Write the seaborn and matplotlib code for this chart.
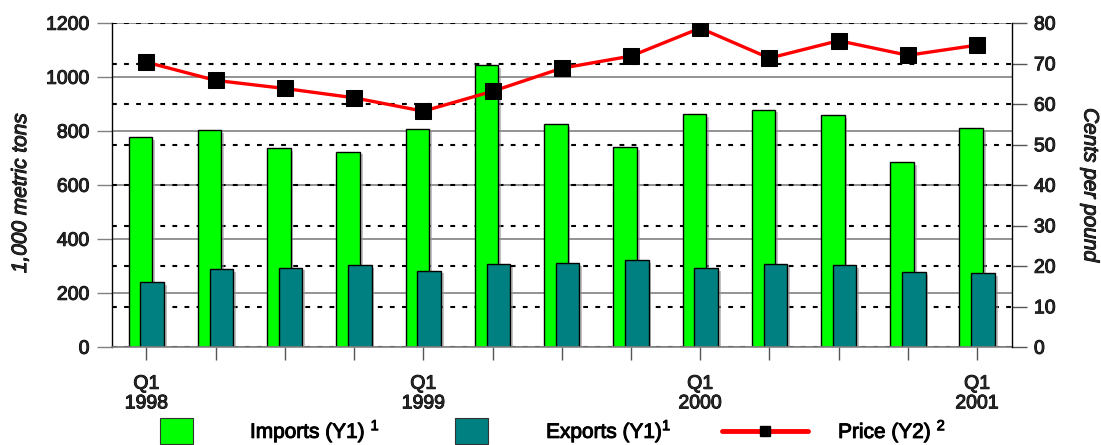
import matplotlib
matplotlib.use("Agg")
import matplotlib.pyplot as plt
import matplotlib.patheffects as pe
from matplotlib.lines import Line2D
from matplotlib.patches import Patch
from matplotlib.ticker import MultipleLocator
import numpy as np
import seaborn as sns

# quarterly data, Q1 1998 .. Q1 2001
quarters = ["1998 Q1", "1998 Q2", "1998 Q3", "1998 Q4",
            "1999 Q1", "1999 Q2", "1999 Q3", "1999 Q4",
            "2000 Q1", "2000 Q2", "2000 Q3", "2000 Q4",
            "2001 Q1"]
tick_labels = ["Q1\n1998", "", "", "", "Q1\n1999", "", "", "",
               "Q1\n2000", "", "", "", "Q1\n2001"]
imports = [778, 805, 737, 725, 807, 1044, 827, 741, 864, 880, 860, 685, 811]
exports = [240, 290, 295, 305, 284, 307, 311, 323, 293, 307, 305, 279, 274]
price = [70.4, 65.9, 63.9, 61.6, 58.3, 63.2, 68.9, 71.9, 78.8, 71.4, 75.7, 72.1, 74.6]

GREEN = "#00ff00"
TEAL = "#008080"
RED = "#ff0000"

sns.set_style("white")
plt.rcParams["font.family"] = ["Liberation Sans", "DejaVu Sans"]
plt.rcParams["mathtext.fontset"] = "custom"
plt.rcParams["mathtext.rm"] = "Liberation Sans"
plt.rcParams["mathtext.it"] = "Liberation Sans:italic"
plt.rcParams["text.color"] = "black"

# the original text is a heavy, slightly smeared Arial: thicken it a little
heavy = [pe.withStroke(linewidth=0.7, foreground="black")]

fig = plt.figure(figsize=(11.01, 4.45), dpi=100)
ax = fig.add_axes([0.1015, 0.2196, 0.8174, 0.7281])
ax2 = ax.twinx()

pos = np.arange(len(quarters))
shift = 0.085

# imports behind, exports in front, slightly overlapping
sns.barplot(x=pos - shift, y=imports, native_scale=True, width=0.34, color=GREEN,
            saturation=1, edgecolor="black", linewidth=1, errorbar=None, ax=ax)
sns.barplot(x=pos + shift, y=exports, native_scale=True, width=0.34, color=TEAL,
            saturation=1, edgecolor="black", linewidth=1, errorbar=None, ax=ax)
for p in ax.patches:
    p.set_path_effects([pe.SimplePatchShadow(offset=(2, -2), shadow_rgbFace="#999999", alpha=0.6),
                        pe.Normal()])

sns.lineplot(x=pos, y=price, ax=ax2, color=RED, linewidth=2.4, marker="s",
             markersize=11, markerfacecolor="black", markeredgecolor="black")

# left axis
ax.set_xlim(-0.5, 12.5)
ax.set_ylim(0, 1200)
ax.yaxis.set_major_locator(MultipleLocator(200))
# dotted lines follow the right-hand scale (10 cents = 150 on the left)
ax.yaxis.set_minor_locator(MultipleLocator(150))
ax.yaxis.remove_overlapping_locs = False
ax.set_axisbelow(True)
ax.grid(which="major", axis="y", color="#808080", linewidth=1.2, linestyle="-")
ax.grid(which="minor", axis="y", color="black", linewidth=1.5, dashes=(2.3, 3.5))
ax.grid(axis="x", visible=False)
ax.tick_params(axis="y", which="major", direction="out", length=11, width=1,
               color="#808080", pad=5, labelsize=14, left=True)
ax.tick_params(axis="y", which="minor", length=0)
ax.set_xticks(pos)
ax.set_xticklabels(tick_labels)
ax.tick_params(axis="x", direction="out", length=9.5, width=1, color="#555555",
               pad=11, labelsize=14, bottom=True)
ax.set_ylabel("1,000 metric tons", fontsize=15, style="italic", va="center")
ax.yaxis.set_label_coords(-0.1013, 0.476)
ax.set_xlabel("")

for s in ["top", "right"]:
    ax.spines[s].set_visible(False)
ax.spines["left"].set_color("black")
ax.spines["left"].set_linewidth(1)
ax.spines["bottom"].set_color("#808080")
ax.spines["bottom"].set_linewidth(1.2)

# right axis
ax2.set_ylim(0, 80)
ax2.yaxis.set_major_locator(MultipleLocator(10))
ax2.grid(False)
ax2.tick_params(axis="y", direction="out", length=11, width=1, color="#555555",
                pad=5, labelsize=14, right=True)
ax2.set_ylabel("Cents per pound", fontsize=15, style="italic", rotation=-90, va="center")
ax2.yaxis.set_label_coords(1.087, 0.5)
for s in ["top", "left", "bottom"]:
    ax2.spines[s].set_visible(False)
ax2.spines["right"].set_color("black")
ax2.spines["right"].set_linewidth(1)

# legend across the bottom
leg_kw = dict(loc="center left", frameon=False, borderpad=0, borderaxespad=0, fontsize=15)
h_imp = Patch(facecolor=GREEN, edgecolor="#333333", linewidth=0.8)
h_exp = Patch(facecolor=TEAL, edgecolor="#333333", linewidth=0.8)
h_pr = Line2D([], [], color=RED, linewidth=3.5, marker="s", markersize=7,
              markerfacecolor="black", markeredgecolor="black")
legs = [
    fig.legend([h_imp], ["Imports (Y1) $^{1}$"], bbox_to_anchor=(0.1453, 0.031),
               handlelength=1.58, handleheight=1.58, handletextpad=2.74, **leg_kw),
    fig.legend([h_exp], ["Exports (Y1)$^{1}$"], bbox_to_anchor=(0.4133, 0.031),
               handlelength=1.58, handleheight=1.58, handletextpad=2.79, **leg_kw),
    fig.legend([h_pr], ["Price (Y2) $^{2}$"], bbox_to_anchor=(0.6558, 0.031),
               handlelength=4.13, handletextpad=1.44, **leg_kw),
]

texts = ax.get_xticklabels() + ax.get_yticklabels() + ax2.get_yticklabels()
texts += [ax.yaxis.label, ax2.yaxis.label]
for lg in legs:
    texts += lg.get_texts()
for t in texts:
    t.set_path_effects(heavy)

fig.savefig("out.png", dpi=100)
